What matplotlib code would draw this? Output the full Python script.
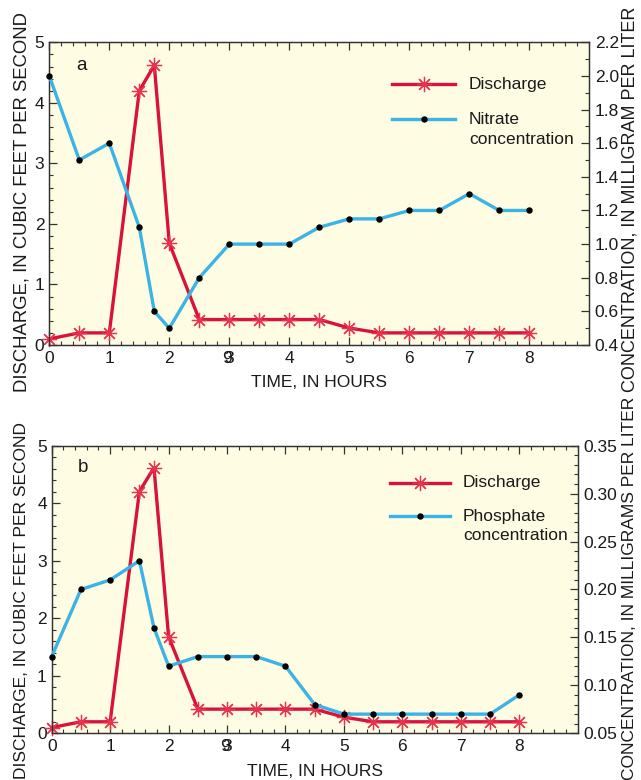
import matplotlib
matplotlib.use("Agg")
import matplotlib.pyplot as plt
from matplotlib.lines import Line2D
from matplotlib.ticker import MultipleLocator, FormatStrFormatter

plt.rcParams['font.family'] = ['Liberation Sans', 'DejaVu Sans']

# Sampling times (hours)
time_h = [0, 0.5, 1, 1.5, 1.75, 2, 2.5, 3, 3.5, 4, 4.5, 5, 5.5, 6, 6.5, 7, 7.5, 8]

# Stream discharge, cubic feet per second
discharge = [0.1, 0.2, 0.2, 4.2, 4.62, 1.68, 0.42, 0.42, 0.42, 0.42, 0.42,
             0.28, 0.2, 0.2, 0.2, 0.2, 0.2, 0.2]

# Nitrate concentration, milligrams per liter
nitrate = [2.0, 1.5, 1.6, 1.1, 0.6, 0.5, 0.8, 1.0, 1.0, 1.0, 1.1,
           1.15, 1.15, 1.2, 1.2, 1.3, 1.2, 1.2]

# Phosphate concentration, milligrams per liter
phosphate = [0.13, 0.20, 0.21, 0.23, 0.16, 0.12, 0.13, 0.13, 0.13, 0.12, 0.08,
             0.07, 0.07, 0.07, 0.07, 0.07, 0.07, 0.09]

x_ticks = [0, 1, 2, 3, 4, 5, 6, 7, 8]

RED = '#D9123C'
BLUE = '#3BB3E4'
BG = '#FFFCE4'
TXT = '#1A1A1A'
FS = 12.5

W, H = 641, 780
fig = plt.figure(figsize=(W / 100, H / 100), dpi=100)


def px_axes(left, top, right, bottom):
    return fig.add_axes([left / W, 1 - bottom / H, (right - left) / W, (bottom - top) / H])


def style_axis(ax):
    for s in ax.spines.values():
        s.set_linewidth(0.9)
        s.set_color('#333333')
    ax.tick_params(which='both', direction='in', colors='#333333', labelcolor=TXT,
                   labelsize=FS)
    ax.tick_params(which='major', length=6, width=0.9)
    ax.tick_params(which='minor', length=3, width=0.8)


def panel(box, conc, conc_lim, conc_major, conc_minor, conc_fmt, letter,
          conc_name, legend_xy, legend_dy):
    ax = px_axes(*box)
    ax.set_facecolor(BG)
    ax.set_xlim(0, 9)
    ax.set_ylim(0, 5)
    ax.xaxis.set_major_locator(MultipleLocator(1))
    ax.xaxis.set_minor_locator(MultipleLocator(0.2))
    ax.yaxis.set_major_locator(MultipleLocator(1))
    ax.yaxis.set_minor_locator(MultipleLocator(0.2))
    style_axis(ax)
    ax.tick_params(axis='x', which='both', top=True, bottom=True, pad=4)
    ax.tick_params(axis='y', which='both', left=True, right=False, pad=3.5)
    ax.set_xticks(x_ticks)
    ax.set_xticklabels([str(v) for v in x_ticks])
    # overprinted digit under the 3 o'clock tick
    ax.annotate('9', xy=(3, 0), xycoords=('data', 'axes fraction'),
                xytext=(-1.5, -4), textcoords='offset points',
                ha='center', va='top', fontsize=FS, color=TXT)

    ax.plot(time_h, discharge, color=RED, lw=2.4, marker=(8, 2, 0), ms=11,
            mew=0.9, mec='#E8334F', zorder=3, clip_on=False)
    ax.set_xlabel('TIME, IN HOURS', fontsize=FS, color=TXT, labelpad=7)

    ax2 = ax.twinx()
    ax2.set_ylim(*conc_lim)
    ax2.yaxis.set_major_locator(MultipleLocator(conc_major))
    ax2.yaxis.set_minor_locator(MultipleLocator(conc_minor))
    ax2.yaxis.set_major_formatter(FormatStrFormatter(conc_fmt))
    style_axis(ax2)
    ax2.tick_params(axis='y', which='both', right=True, left=False, pad=4)
    ax2.plot(time_h, conc, color=BLUE, lw=2.4, marker='o', ms=3.6,
             mfc='black', mec='black', zorder=3, clip_on=False)

    ax.text(0.05, 0.925, letter, transform=ax.transAxes, fontsize=FS + 1,
            color=TXT, ha='left', va='center')

    # legend
    lx0, lx1, tx, ly = legend_xy
    tr = ax.transAxes
    inv = ax.transAxes.inverted()

    def to_ax(xp, yp):
        return inv.transform(fig.transFigure.transform((xp / W, 1 - yp / H)))

    a0 = to_ax(lx0, ly)
    a1 = to_ax(lx1, ly)
    t0 = to_ax(tx, ly)
    ax2.add_line(Line2D([a0[0], a1[0]], [a0[1], a1[1]], transform=tr, color=RED,
                        lw=2.4, zorder=5))
    ax2.add_line(Line2D([(a0[0] + a1[0]) / 2], [a0[1]], transform=tr, color=RED,
                        marker=(8, 2, 0), ms=11, mew=0.9, mec='#E8334F', lw=0,
                        zorder=5))
    ax2.text(t0[0], t0[1], 'Discharge', transform=tr, fontsize=FS, color=TXT,
             ha='left', va='center')
    b0 = to_ax(lx0, ly + legend_dy)
    b1 = to_ax(lx1, ly + legend_dy)
    bt = to_ax(tx, ly + legend_dy)
    ax2.add_line(Line2D([b0[0], b1[0]], [b0[1], b1[1]], transform=tr, color=BLUE,
                        lw=2.4, zorder=5))
    ax2.add_line(Line2D([(b0[0] + b1[0]) / 2], [b0[1]], transform=tr, color='black',
                        marker='o', ms=3.6, lw=0, zorder=5))
    ax2.text(bt[0], bt[1], conc_name, transform=tr, fontsize=FS, color=TXT,
             ha='left', va='center')
    bt2 = to_ax(tx, ly + legend_dy + 20)
    ax2.text(bt2[0], bt2[1], 'concentration', transform=tr, fontsize=FS,
             color=TXT, ha='left', va='center')
    return ax, ax2


panel((49.3, 42.3, 589.3, 345), nitrate, (0.4, 2.2), 0.2, 0.1, '%.1f', 'a',
      'Nitrate', (392, 455, 469, 84), 35)
panel((51.7, 445.7, 577.7, 733.3), phosphate, (0.05, 0.35), 0.05, 0.01, '%.2f', 'b',
      'Phosphate', (390, 450, 463, 483), 33)

# Axis titles
fig.text(22 / W, 1 - 392 / H, 'DISCHARGE, IN CUBIC FEET PER SECOND', rotation=90,
         ha='center', va='bottom', fontsize=13.3, color=TXT)
fig.text(630 / W, 1 - 392 / H, 'CONCENTRATION, IN MILLIGRAM PER LITER', rotation=90,
         ha='center', va='bottom', fontsize=13.0, color=TXT)
fig.text(22 / W, 1 - 779 / H, 'DISCHARGE, IN CUBIC FEET PER SECOND', rotation=90,
         ha='center', va='bottom', fontsize=FS, color=TXT)
fig.text(630 / W, 1 - 780 / H, 'CONCENTRATION, IN MILLIGRAMS PER LITER', rotation=90,
         ha='center', va='bottom', fontsize=FS, color=TXT)

fig.savefig('out.png', dpi=100, facecolor='white')
